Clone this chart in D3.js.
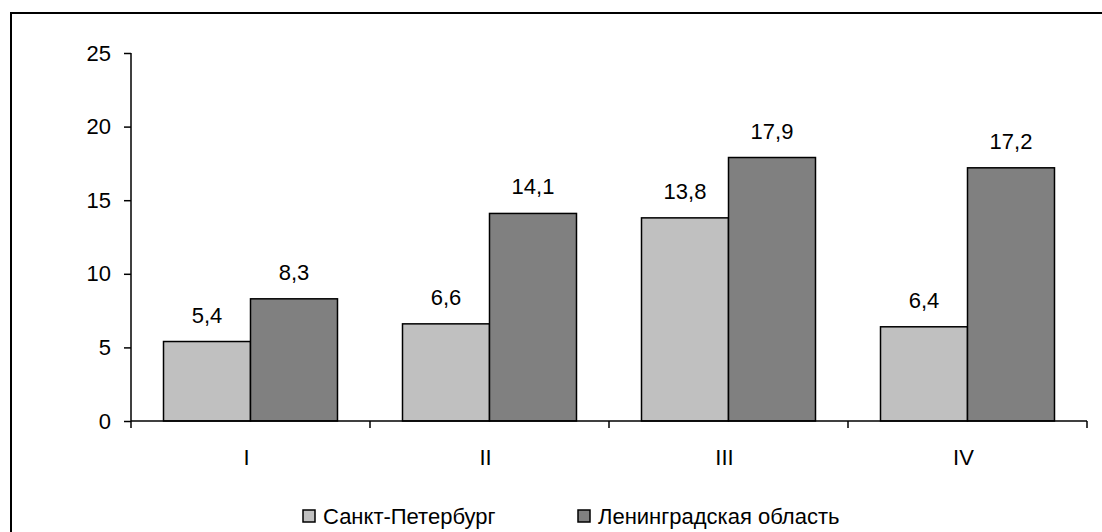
<!DOCTYPE html>
<html>
<head>
<meta charset="utf-8">
<script src="https://cdn.jsdelivr.net/npm/d3@7/dist/d3.min.js"></script>
<style>
  html, body { margin: 0; padding: 0; background: #fff; }
  svg { display: block; }
  text { font-family: "Liberation Sans", Arial, sans-serif; fill: #000; }
</style>
</head>
<body>
<svg id="chart" width="1102" height="532"></svg>
<script>
// Quarters and the two regions being compared
const categories = ["I", "II", "III", "IV"];
const seriesNames = ["Санкт-Петербург", "Ленинградская область"];
const spbValues = [5.4, 6.6, 13.8, 6.4];
const lenValues = [8.3, 14.1, 17.9, 17.2];
const yTicks = [0, 5, 10, 15, 20, 25];
const seriesColors = ["#c0c0c0", "#808080"];

const svg = d3.select("#chart");
const W = 1102, H = 532;
const fontSize = 22;

// Outer frame (runs past the right and bottom edges)
svg.append("rect")
  .attr("x", 11).attr("y", 13)
  .attr("width", W + 20).attr("height", H + 20)
  .attr("fill", "#fff")
  .attr("stroke", "#000").attr("stroke-width", 2);

const plot = { left: 131, right: 1087, top: 53, bottom: 421 };

const x = d3.scaleBand()
  .domain(categories)
  .range([plot.left, plot.right])
  .padding(0);

const y = d3.scaleLinear()
  .domain([0, 25])
  .range([plot.bottom, plot.top]);

const barW = x.bandwidth() * 0.364;

// Y axis
const yAxis = svg.append("g")
  .attr("transform", `translate(${plot.left},0)`)
  .call(d3.axisLeft(y).tickValues(yTicks).tickSize(7).tickPadding(13).tickFormat(d3.format("d")));
yAxis.selectAll("path, line").attr("stroke", "#000").attr("stroke-width", 1.5);
yAxis.select(".domain").attr("d", `M0,${plot.top}V${plot.bottom}`);
yAxis.selectAll("text")
  .style("font-family", '"Liberation Sans", Arial, sans-serif')
  .style("font-size", fontSize + "px").attr("fill", "#000");

// Bars
const groups = svg.append("g").selectAll("g")
  .data(categories)
  .join("g");

const seriesData = [spbValues, lenValues];
seriesData.forEach((vals, si) => {
  svg.append("g").selectAll("rect")
    .data(categories)
    .join("rect")
    .attr("x", (c) => x(c) + x.bandwidth() / 2 - barW + si * barW)
    .attr("y", (c, i) => y(vals[i]))
    .attr("width", barW)
    .attr("height", (c, i) => y(0) - y(vals[i]))
    .attr("fill", seriesColors[si])
    .attr("stroke", "#000")
    .attr("stroke-width", 1.5);

  svg.append("g").selectAll("text")
    .data(categories)
    .join("text")
    .attr("x", (c) => x(c) + x.bandwidth() / 2 - barW / 2 + si * barW)
    .attr("y", (c, i) => y(vals[i]) - 19)
    .attr("text-anchor", "middle")
    .style("font-size", fontSize + "px")
    .text((c, i) => String(vals[i]).replace(".", ","));
});

// X axis with ticks between categories
const xAxis = svg.append("g")
  .attr("transform", `translate(0,${plot.bottom})`);
xAxis.append("line")
  .attr("x1", plot.left).attr("x2", plot.right)
  .attr("stroke", "#000").attr("stroke-width", 1.5);
const boundaries = categories.map((c) => x(c)).concat([plot.right]);
xAxis.selectAll("line.tick")
  .data(boundaries)
  .join("line")
  .attr("class", "tick")
  .attr("x1", (d) => d).attr("x2", (d) => d)
  .attr("y1", 0).attr("y2", 7)
  .attr("stroke", "#000").attr("stroke-width", 1.5);
xAxis.selectAll("text")
  .data(categories)
  .join("text")
  .attr("x", (c) => x(c) + x.bandwidth() / 2 - 4)
  .attr("y", 44)
  .attr("text-anchor", "middle")
  .style("font-size", fontSize + "px")
  .text((c) => c);

// Legend
const legendX = [303, 578];
const legend = svg.append("g");
seriesNames.forEach((name, i) => {
  legend.append("rect")
    .attr("x", legendX[i]).attr("y", 510)
    .attr("width", 12).attr("height", 12)
    .attr("fill", seriesColors[i])
    .attr("stroke", "#000").attr("stroke-width", 1.5);
  legend.append("text")
    .attr("x", legendX[i] + 20).attr("y", 524)
    .style("font-size", fontSize + "px")
    .text(name);
});
</script>
</body>
</html>
